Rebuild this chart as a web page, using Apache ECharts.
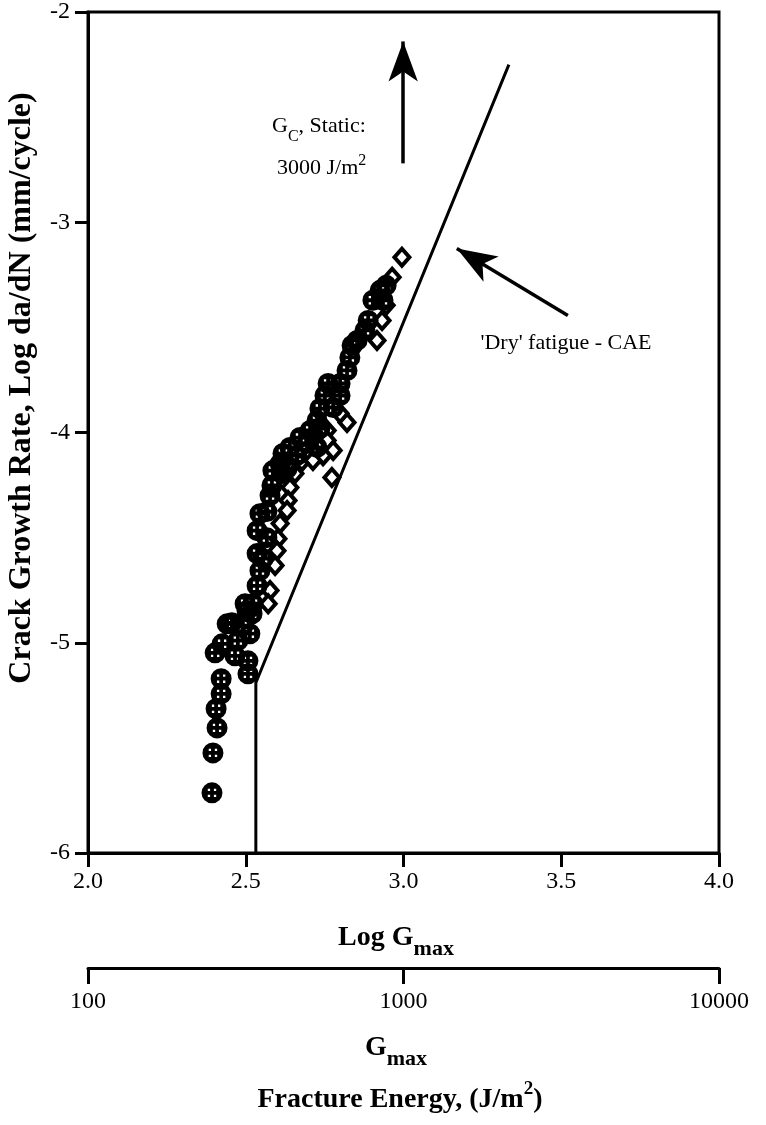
<!DOCTYPE html>
<html>
<head>
<meta charset="utf-8">
<script src="https://cdn.jsdelivr.net/npm/echarts@6/dist/echarts.min.js"></script>
<style>
  html, body { margin: 0; padding: 0; background: #fff; }
  #main { width: 766px; height: 1125px; }
</style>
</head>
<body>
<div id="main"></div>
<script>
  // circles (crossed circle symbol)
  var circleLogG = [2.393, 2.396, 2.409, 2.406, 2.422, 2.422, 2.403, 2.466, 2.507, 2.507,
                    2.425, 2.441, 2.456, 2.513, 2.520, 2.498, 2.504, 2.523, 2.536, 2.545,
                    2.536, 2.555, 2.536, 2.567, 2.545, 2.567, 2.577, 2.583, 2.615, 2.586,
                    2.609, 2.631, 2.618, 2.662, 2.640, 2.672, 2.694, 2.726, 2.704, 2.735,
                    2.726, 2.735, 2.777, 2.751, 2.799, 2.761, 2.799, 2.821, 2.830, 2.837,
                    2.853, 2.878, 2.888, 2.903, 2.935, 2.926, 2.945, 2.475, 2.491]
  var circleRate = [-5.714, -5.524, -5.405, -5.314, -5.243, -5.171, -5.048, -5.062, -5.148, -5.086,
                    -5.005, -4.910, -4.905, -4.957, -4.862, -4.814, -4.848, -4.814, -4.729, -4.657,
                    -4.576, -4.600, -4.467, -4.500, -4.386, -4.376, -4.300, -4.252, -4.195, -4.181,
                    -4.148, -4.171, -4.100, -4.110, -4.071, -4.024, -4.052, -4.071, -3.990, -3.981,
                    -3.943, -3.886, -3.881, -3.824, -3.824, -3.767, -3.767, -3.705, -3.643, -3.586,
                    -3.562, -3.514, -3.467, -3.371, -3.371, -3.324, -3.300, -4.990, -4.919]

  // diamonds
  var diamondLogG = [2.995, 2.964, 2.945, 2.932, 2.916, 2.821, 2.799, 2.758, 2.758, 2.777,
                     2.745, 2.713, 2.672, 2.650, 2.773, 2.656, 2.640, 2.634, 2.631, 2.609,
                     2.602, 2.599, 2.593, 2.577, 2.571]
  var diamondRate = [-3.167, -3.262, -3.395, -3.467, -3.562, -3.952, -3.910, -3.990, -4.038, -4.086,
                     -4.110, -4.133, -4.148, -4.171, -4.214, -4.195, -4.262, -4.324, -4.371, -4.433,
                     -4.505, -4.562, -4.633, -4.752, -4.814]

  // 'Dry' fatigue - CAE line
  var fitLogG = [2.532, 2.532, 3.334]
  var fitRate = [-6, -5.19, -2.25]

  // arrows [fromX, fromY, toX, toY]
  var staticArrow = [2.999, -2.72, 2.999, -2.14]
  var dryArrow = [3.521, -3.443, 3.169, -3.125]

  var xTicks = [2.0, 2.5, 3.0, 3.5, 4.0]
  var yTicks = [-6, -5, -4, -3, -2]
  var gTicks = [100, 1000, 10000]

  function zip(a, b) {
    var out = []
    for (var i = 0; i < a.length; i++) out.push([a[i], b[i]])
    return out
  }

  // filled circle with four small holes
  var crossCircle = 'path://M10,0 A10,10 0 1,1 10,20 A10,10 0 1,1 10,0 Z' +
    ' M6.0,6.0 L6.0,8.2 L8.2,8.2 L8.2,6.0 Z' +
    ' M11.8,6.0 L11.8,8.2 L14.0,8.2 L14.0,6.0 Z' +
    ' M6.0,11.8 L6.0,14.0 L8.2,14.0 L8.2,11.8 Z' +
    ' M11.8,11.8 L11.8,14.0 L14.0,14.0 L14.0,11.8 Z'

  var serif = '"Liberation Serif", "DejaVu Serif", serif'
  var chart = echarts.init(document.getElementById('main'))

  // big text + lowered subscript
  function subRich(big, small, bold, raise) {
    var w = bold ? 'bold' : 'normal'
    return {
      a: { fontSize: big, fontWeight: w, fontFamily: serif, verticalAlign: 'bottom', padding: [0, 0, raise, 0] },
      b: { fontSize: small, fontWeight: w, fontFamily: serif, verticalAlign: 'bottom' }
    }
  }
  // big text + raised superscript
  function supRich(big, small, bold, drop) {
    var w = bold ? 'bold' : 'normal'
    return {
      a: { fontSize: big, fontWeight: w, fontFamily: serif, verticalAlign: 'top', padding: [drop, 0, 0, 0] },
      s: { fontSize: small, fontWeight: w, fontFamily: serif, verticalAlign: 'top' }
    }
  }

  chart.setOption({
    animation: false,
    backgroundColor: '#fff',
    textStyle: { fontFamily: serif, color: '#000' },
    grid: [
      { left: 88, right: 47, top: 12, bottom: 272, show: true, borderColor: '#000', borderWidth: 3 },
      { left: 88, right: 47, top: 967, height: 1 }
    ],
    xAxis: [{
      gridIndex: 0,
      type: 'value',
      min: xTicks[0],
      max: xTicks[xTicks.length - 1],
      interval: 0.5,
      axisLine: { lineStyle: { color: '#000', width: 3 } },
      axisTick: { length: 14, lineStyle: { color: '#000', width: 3 } },
      axisLabel: { margin: 17, fontSize: 24, fontFamily: serif, color: '#000',
        formatter: function (v) { return v.toFixed(1) } },
      splitLine: { show: false }
    }, {
      gridIndex: 1,
      type: 'log',
      logBase: 10,
      min: gTicks[0],
      max: gTicks[gTicks.length - 1],
      axisLine: { lineStyle: { color: '#000', width: 3 } },
      axisTick: { length: 16, lineStyle: { color: '#000', width: 3 } },
      minorTick: { show: false },
      axisLabel: { margin: 22, fontSize: 24, fontFamily: serif, color: '#000',
        formatter: function (v) { return String(Math.round(v)) } },
      splitLine: { show: false }
    }],
    yAxis: [{
      gridIndex: 0,
      type: 'value',
      min: yTicks[0],
      max: yTicks[yTicks.length - 1],
      interval: 1,
      axisLine: { lineStyle: { color: '#000', width: 3 } },
      axisTick: { length: 13, lineStyle: { color: '#000', width: 3 } },
      axisLabel: { margin: 18, fontSize: 24, fontFamily: serif, color: '#000' },
      splitLine: { show: false }
    }, {
      gridIndex: 1,
      type: 'value',
      show: false
    }],
    series: [{
      name: 'fit',
      type: 'line',
      data: zip(fitLogG, fitRate),
      symbol: 'none',
      lineStyle: { color: '#000', width: 3 },
      z: 3,
      markLine: {
        silent: true,
        symbol: ['none', 'arrow'],
        symbolSize: [22, 40],
        label: { show: false },
        lineStyle: { color: '#000', width: 3.5, type: 'solid' },
        data: [
          [{ coord: [staticArrow[0], staticArrow[1]] }, { coord: [staticArrow[2], staticArrow[3]] }],
          [{ coord: [dryArrow[0], dryArrow[1]] }, { coord: [dryArrow[2], dryArrow[3]] }]
        ]
      }
    }, {
      name: 'diamonds',
      type: 'scatter',
      data: zip(diamondLogG, diamondRate),
      symbol: 'diamond',
      symbolSize: [15, 17],
      itemStyle: { color: '#fff', borderColor: '#000', borderWidth: 4, opacity: 1 },
      z: 4
    }, {
      name: 'circles',
      type: 'scatter',
      data: zip(circleLogG, circleRate),
      symbol: crossCircle,
      symbolSize: 21,
      itemStyle: { color: '#000', opacity: 1 },
      z: 5
    }],
    graphic: [{
      type: 'text',
      x: 22, y: 388,
      rotation: Math.PI / 2,
      style: {
        text: 'Crack Growth Rate, Log da/dN (mm/cycle)',
        font: 'bold 32px ' + serif,
        fill: '#000',
        textAlign: 'center',
        textVerticalAlign: 'middle'
      }
    }, {
      type: 'text',
      x: 396, y: 942,
      style: {
        text: '{a|Log G}{b|max}',
        fill: '#000',
        textAlign: 'center',
        textVerticalAlign: 'middle',
        rich: subRich(28, 22, true, 9)
      }
    }, {
      type: 'text',
      x: 396, y: 1052,
      style: {
        text: '{a|G}{b|max}',
        fill: '#000',
        textAlign: 'center',
        textVerticalAlign: 'middle',
        rich: subRich(28, 22, true, 9)
      }
    }, {
      type: 'text',
      x: 400, y: 1097,
      style: {
        text: '{a|Fracture Energy, (J/m}{s|2}{a|)}',
        fill: '#000',
        textAlign: 'center',
        textVerticalAlign: 'middle',
        rich: supRich(28, 19, true, 6)
      }
    }, {
      type: 'text',
      x: 272, y: 130,
      style: {
        text: '{a|G}{b|C}{a|, Static:}',
        fill: '#000',
        textAlign: 'left',
        textVerticalAlign: 'middle',
        rich: subRich(22, 16, false, 7)
      }
    }, {
      type: 'text',
      x: 277, y: 166,
      style: {
        text: '{a|3000 J/m}{s|2}',
        fill: '#000',
        textAlign: 'left',
        textVerticalAlign: 'middle',
        rich: supRich(22, 16, false, 5)
      }
    }, {
      type: 'text',
      x: 566, y: 343,
      style: {
        text: "'Dry' fatigue - CAE",
        font: '22px ' + serif,
        fill: '#000',
        textAlign: 'center',
        textVerticalAlign: 'middle'
      }
    }]
  })
</script>
</body>
</html>
